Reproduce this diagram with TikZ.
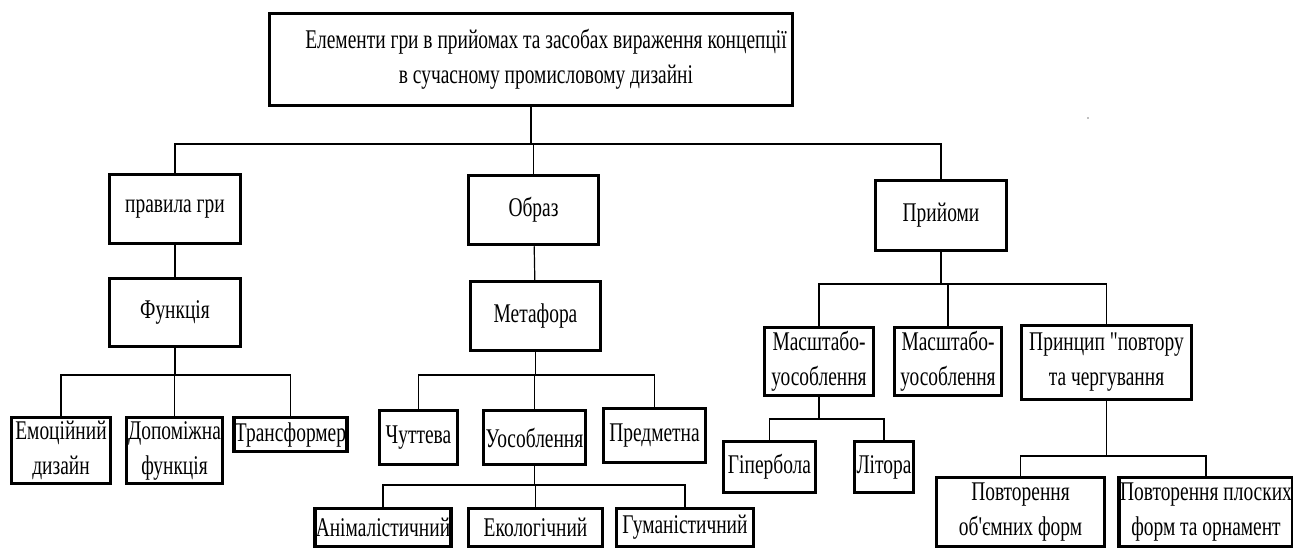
\documentclass[tikz,border=0pt]{standalone}
\usepackage{fontspec}
\setmainfont{Liberation Serif}[FakeStretch=0.72, Ligatures=TeXOff]
\usepackage{tikz}

\begin{document}
\begin{tikzpicture}[
    x=1pt, y=-1pt,
    box/.style={draw, line width=3.5pt, inner sep=1pt, align=center,
                font=\fontsize{27}{35}\selectfont},
    link/.style={line width=1.2pt}
]
    \useasboundingbox (0,0) rectangle (1293,550);

    % Title
    \node[box, minimum width=523pt, minimum height=92pt] (title) at (531,59.5)
        {\hspace*{30pt}Елементи гри в прийомах та засобах вираження концепції\\
         \hspace*{30pt}в сучасному промисловому дизайні};

    % Level 1
    \node[box, minimum width=131pt, minimum height=69pt] (rules) at (175,209) {правила гри};
    \node[box, minimum width=130pt, minimum height=69pt] (image) at (533.5,210) {Образ};
    \node[box, minimum width=131pt, minimum height=70pt] (tech) at (941,215.5) {Прийоми};

    % Left branch
    \node[box, minimum width=131pt, minimum height=68pt] (func) at (175,312.5) {Функція};
    \node[box, minimum width=99pt, minimum height=66pt] (emo) at (61,450.5) {Емоційний\\дизайн};
    \node[box, minimum width=96pt, minimum height=66pt] (aux) at (174.5,450.5) {Допоміжна\\функція};
    \node[box, minimum width=112pt, minimum height=34pt] (trans) at (290.5,434.5) {Трансформер};

    % Middle branch
    \node[box, minimum width=130pt, minimum height=69pt] (meta) at (535.5,316) {Метафора};
    \node[box, minimum width=78pt, minimum height=54pt] (sens) at (418.5,437.5) {Чуттева};
    \node[box, minimum width=102pt, minimum height=54pt] (pers) at (534.5,437.5) {Уособлення};
    \node[box, minimum width=102pt, minimum height=54pt] (subj) at (654.5,435.5) {Предметна};
    \node[box, minimum width=135pt, minimum height=38pt] (anim) at (383,527.5) {Анімалістичний};
    \node[box, minimum width=134pt, minimum height=38pt] (eco) at (535.5,527.5) {Екологічний};
    \node[box, minimum width=137pt, minimum height=38pt] (hum) at (685,527.5) {Гуманістичний};

    % Right branch
    \node[box, minimum width=109pt, minimum height=68pt] (scaleA) at (819,361.5) {Масштабо-\\уособлення};
    \node[box, minimum width=107pt, minimum height=68pt] (scaleB) at (948,361.5) {Масштабо-\\уособлення};
    \node[box, minimum width=170pt, minimum height=74pt] (princ) at (1106.5,362.5) {Принцип "повтору\\та чергування};
    \node[box, minimum width=92pt, minimum height=51pt] (hyper) at (769.5,467) {Гіпербола};
    \node[box, minimum width=59pt, minimum height=51pt] (litot) at (884,467) {Літора};
    \node[box, minimum width=168pt, minimum height=69pt] (repvol) at (1020.5,512) {Повторення\\об'ємних форм};
    \node[box, minimum width=166pt, minimum height=69pt] (repflat) at (1206,512) {Повторення плоских\\форм та орнамент};

    % Bus levels
    \coordinate (busTop) at (0,144);
    \coordinate (busFunc) at (0,375);
    \coordinate (busMeta) at (0,375);
    \coordinate (busPers) at (0,485);
    \coordinate (busTech) at (0,284);
    \coordinate (busScale) at (0,419);
    \coordinate (busPrinc) at (0,456);

    % Connectors
    \foreach \c in {rules,image,tech}
        \draw[link] (title.south) |- (\c.north |- busTop) -- (\c.north);
    \draw[link] (rules) -- (func);
    \draw[link] (image) -- (meta);
    \foreach \c in {emo,aux,trans}
        \draw[link] (func.south) |- (\c.north |- busFunc) -- (\c.north);
    \foreach \c in {sens,pers,subj}
        \draw[link] (meta.south) |- (\c.north |- busMeta) -- (\c.north);
    \foreach \c in {anim,eco,hum}
        \draw[link] (pers.south) |- (\c.north |- busPers) -- (\c.north);
    \foreach \c in {scaleA,scaleB,princ}
        \draw[link] (tech.south) |- (\c.north |- busTech) -- (\c.north);
    \foreach \c in {hyper,litot}
        \draw[link] (scaleA.south) |- (\c.north |- busScale) -- (\c.north);
    \foreach \c in {repvol,repflat}
        \draw[link] (princ.south) |- (\c.north |- busPrinc) -- (\c.north);

    % stray dot
    \fill[gray] (1088,118) circle (0.8pt);
\end{tikzpicture}
\end{document}
